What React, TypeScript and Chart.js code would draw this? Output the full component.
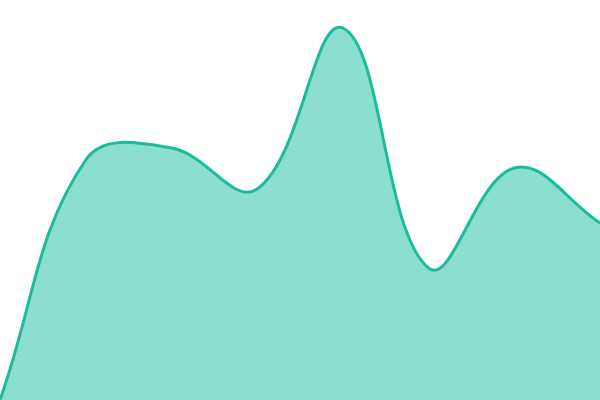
import React, { useEffect, useRef } from "react";
import { Chart, registerables } from "chart.js";

Chart.register(...registerables);

const categories = ["A", "B", "C", "D", "E", "F", "G", "H"];
const seriesValues = [0, 240, 252, 211, 372, 132, 232, 177];

export default function App() {
  const ref = useRef<HTMLCanvasElement | null>(null);
  useEffect(() => {
    document.body.style.margin = "0";
    const chart = new Chart(ref.current!, {
      type: "line",
      data: {
        labels: categories,
        datasets: [
          {
            data: seriesValues,
            borderColor: "#1abc9c",
            backgroundColor: "rgba(26,190,158,0.5)",
            borderWidth: 3,
            fill: true,
            tension: 0.4,
            pointRadius: 0,
          },
        ],
      },
      options: {
        animation: false,
        responsive: false,
        layout: { padding: 0 },
        plugins: { legend: { display: false }, tooltip: { enabled: false } },
        scales: {
          x: { display: false, offset: false },
          y: { display: false, min: 0, max: 400 },
        },
      },
    });
    return () => chart.destroy();
  }, []);
  return <canvas ref={ref} width={600} height={400} style={{ display: "block" }} />;
}
